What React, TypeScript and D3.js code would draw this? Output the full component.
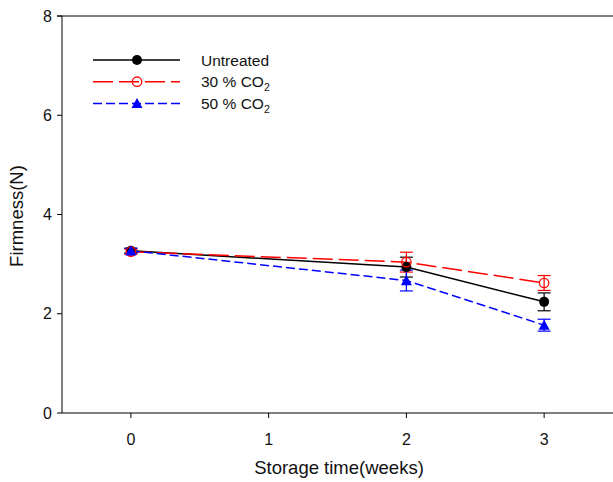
import React from "react";
import * as d3 from "d3";

const weeks = [0, 2, 3];
const untreated = [3.27, 2.94, 2.24];
const untreatedErr = [0.05, 0.2, 0.18];
const co2_30 = [3.25, 3.04, 2.62];
const co2_30Err = [0.05, 0.2, 0.15];
const co2_50 = [3.27, 2.67, 1.77];
const co2_50Err = [0.05, 0.21, 0.12];
const xTicks = [0, 1, 2, 3];
const yTicks = [0, 2, 4, 6, 8];
const seriesNames = ["Untreated", "30 % CO", "50 % CO"];

const W = 613;
const H = 482;

export default function App() {
  const x = d3.scaleLinear().domain([-0.5, 3.5]).range([62, 613]);
  const y = d3.scaleLinear().domain([0, 8]).range([413, 16]);
  const line = d3
    .line<[number, number]>()
    .x((d) => x(d[0]))
    .y((d) => y(d[1]));

  const series = [
    { vals: untreated, err: untreatedErr, color: "#000000", dash: undefined as string | undefined, marker: "dot" },
    { vals: co2_30, err: co2_30Err, color: "#ff0000", dash: "20,6", marker: "ring" },
    { vals: co2_50, err: co2_50Err, color: "#0000ff", dash: "9,4", marker: "tri" },
  ];

  const font = "Arial, 'Liberation Sans', sans-serif";

  const marker = (kind: string, cx: number, cy: number, color: string, key: string) => {
    if (kind === "dot") return <circle key={key} cx={cx} cy={cy} r={5} fill={color} />;
    if (kind === "ring")
      return <circle key={key} cx={cx} cy={cy} r={4.7} fill="none" stroke={color} strokeWidth={1.3} />;
    const s = 5.5;
    return (
      <path
        key={key}
        d={`M${cx},${cy - s}L${cx + s},${cy + s * 0.85}L${cx - s},${cy + s * 0.85}Z`}
        fill={color}
      />
    );
  };

  return (
    <svg
      width={W}
      height={H}
      style={{ position: "absolute", left: 0, top: 0, background: "#fff" }}
      fontFamily={font}
    >
      {/* frame */}
      <line x1={62} x2={62} y1={16} y2={413} stroke="#000" strokeWidth={1} />
      <line x1={57} x2={613} y1={16} y2={16} stroke="#000" strokeWidth={1} />
      <line x1={62} x2={613} y1={413} y2={413} stroke="#000" strokeWidth={1} />
      {yTicks.map((t) => (
        <g key={"y" + t}>
          <line x1={57} x2={62} y1={y(t)} y2={y(t)} stroke="#000" />
          <text x={52} y={y(t) + 5.5} fontSize={16} textAnchor="end" fill="#111">
            {t}
          </text>
        </g>
      ))}
      {xTicks.map((t) => (
        <g key={"x" + t}>
          <line x1={x(t)} x2={x(t)} y1={413} y2={418} stroke="#000" />
          <text x={x(t)} y={445} fontSize={16} textAnchor="middle" fill="#111">
            {t}
          </text>
        </g>
      ))}
      <text x={339} y={474} fontSize={18.5} textAnchor="middle" fill="#111">
        Storage time(weeks)
      </text>
      <text
        transform={`translate(23,216) rotate(-90)`}
        fontSize={18.5}
        textAnchor="middle"
        fill="#111"
      >
        Firmness(N)
      </text>

      {/* lines */}
      {series.map((s, i) => (
        <path
          key={"l" + i}
          d={line(weeks.map((w, j) => [w, s.vals[j]] as [number, number])) || ""}
          fill="none"
          stroke={s.color}
          strokeWidth={1.5}
          strokeDasharray={s.dash}
        />
      ))}
      {/* error bars */}
      {series.map((s, i) =>
        weeks.map((w, j) => {
          const cx = x(w);
          const y1 = y(s.vals[j] + s.err[j]);
          const y2 = y(s.vals[j] - s.err[j]);
          return (
            <g key={"e" + i + j} stroke={s.color} strokeWidth={1.2}>
              <line x1={cx} x2={cx} y1={y1} y2={y2} />
              <line x1={cx - 6.5} x2={cx + 6.5} y1={y1} y2={y1} />
              <line x1={cx - 6.5} x2={cx + 6.5} y1={y2} y2={y2} />
            </g>
          );
        })
      )}
      {/* markers */}
      {series.map((s, i) =>
        weeks.map((w, j) => marker(s.marker, x(w), y(s.vals[j]), s.color, "m" + i + j))
      )}

      {/* legend */}
      {series.map((s, i) => {
        const ly = 60 + i * 21.7;
        return (
          <g key={"lg" + i}>
            <line
              x1={93}
              x2={180}
              y1={ly}
              y2={ly}
              stroke={s.color}
              strokeWidth={1.5}
              strokeDasharray={s.dash}
            />
            {marker(s.marker, 137, ly, s.color, "lm" + i)}
            <text x={201} y={ly + 5.5} fontSize={15.5} fill="#111">
              {seriesNames[i]}
              {i > 0 ? (
                <tspan fontSize={10.5} dy={4}>
                  2
                </tspan>
              ) : null}
            </text>
          </g>
        );
      })}
    </svg>
  );
}
